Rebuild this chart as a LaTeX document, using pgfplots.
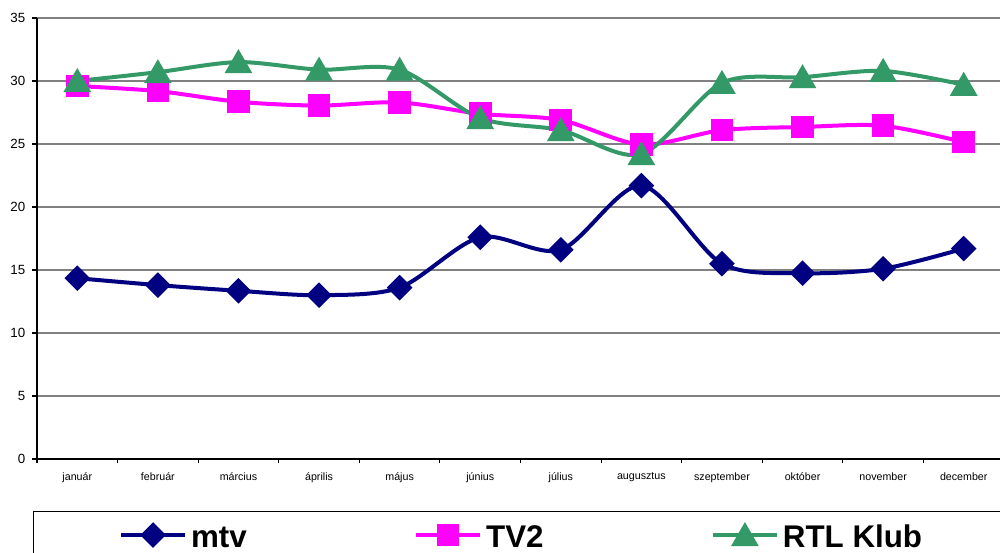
\documentclass[border=0pt]{standalone}
\usepackage{fontspec}
\setmainfont{Liberation Sans}
\usepackage{pgfplots}
\pgfplotsset{compat=1.18}
\definecolor{mtvblue}{RGB}{0,0,128}
\definecolor{tvmag}{RGB}{255,0,255}
\definecolor{rtlgreen}{RGB}{51,153,102}
\definecolor{gridgray}{RGB}{128,128,128}

\begin{document}
\begin{tikzpicture}
\begin{axis}[
    scale only axis,
    width=725.25pt, height=330.75pt,
    xmin=0.5, xmax=12.5,
    ymin=0, ymax=35,
    ytick={0,5,...,35},
    xtick={1,...,12},
    xticklabels={január,február,március,április,május,június,július,augusztus,szeptember,október,november,december},
    axis x line=bottom, axis y line=left,
    axis line style={-, black, line width=1.1pt},
    ymajorgrids,
    grid style={gridgray, line width=1.1pt},
    tick align=outside,
    major tick length=3.75pt,
    tick style={black, line width=0.8pt},
    major x tick style={draw=none},
    extra x ticks={0.5,1.5,...,12.5},
    extra x tick labels={},
    extra x tick style={grid=none, major tick length=3pt, major x tick style={draw=black}},
    /pgf/number format/assume math mode=true,
    yticklabel style={font=\fontsize{10}{12}\selectfont, xshift=-1.5pt},
    xticklabel style={font=\fontsize{8}{10}\selectfont, yshift=-3pt},
    legend columns=3,
    legend image code/.code={
        \draw[mark repeat=2,mark phase=2,#1] plot coordinates {(0pt,0pt) (24pt,0pt) (48pt,0pt)};
    },
    legend style={
        at={(-0.00414,-0.1179)}, anchor=north west,
        draw=black, line width=1.1pt,
        inner xsep=64pt, inner ysep=3pt,
        font=\fontsize{23.5}{28}\selectfont\bfseries,
        nodes={inner sep=2pt, text height=21.5pt, text depth=3.5pt},
        /tikz/column sep=1pt,
        /tikz/every even column/.append style={column sep=123.5pt},
    },
]

% mtv
\addplot[mtvblue, line width=3pt, smooth, mark=square*, mark size=5.3pt,
    mark options={rotate=45}] coordinates {
    (1,14.35) (2,13.8) (3,13.35) (4,13.0) (5,13.6) (6,17.6)
    (7,16.6) (8,21.7) (9,15.5) (10,14.75) (11,15.1) (12,16.7)};
\addlegendentry{mtv}

% TV2
\addplot[tvmag, line width=3pt, smooth, mark=square*, mark size=7pt] coordinates {
    (1,29.6) (2,29.2) (3,28.35) (4,28.05) (5,28.3) (6,27.4)
    (7,26.9) (8,24.95) (9,26.1) (10,26.35) (11,26.45) (12,25.15)};
\addlegendentry{TV2}

% RTL Klub
\addplot[rtlgreen, line width=3pt, smooth, mark=triangle*, mark size=9pt,
    mark options={yshift=-2.25pt}] coordinates {
    (1,30.0) (2,30.7) (3,31.5) (4,30.9) (5,30.9) (6,27.05)
    (7,26.1) (8,24.2) (9,29.85) (10,30.3) (11,30.8) (12,29.7)};
\addlegendentry{RTL Klub}

\end{axis}
\pgfresetboundingbox
\useasboundingbox (-27.75pt,-70.5pt) rectangle (722.25pt,344.25pt);
\end{tikzpicture}
\end{document}
